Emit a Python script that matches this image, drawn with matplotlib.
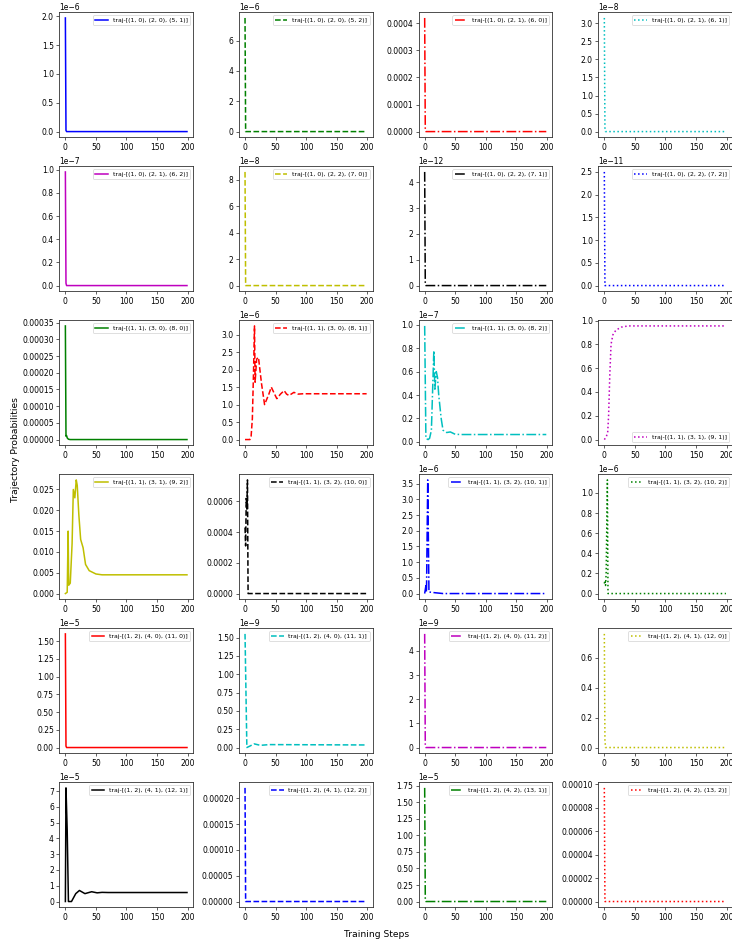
import numpy as np
import matplotlib
matplotlib.use('Agg')
import matplotlib.pyplot as plt

# trajectory labels
labels = [
    'traj-[(1, 0), (2, 0), (5, 1)]', 'traj-[(1, 0), (2, 0), (5, 2)]',
    'traj-[(1, 0), (2, 1), (6, 0)]', 'traj-[(1, 0), (2, 1), (6, 1)]',
    'traj-[(1, 0), (2, 1), (6, 2)]', 'traj-[(1, 0), (2, 2), (7, 0)]',
    'traj-[(1, 0), (2, 2), (7, 1)]', 'traj-[(1, 0), (2, 2), (7, 2)]',
    'traj-[(1, 1), (3, 0), (8, 0)]', 'traj-[(1, 1), (3, 0), (8, 1)]',
    'traj-[(1, 1), (3, 0), (8, 2)]', 'traj-[(1, 1), (3, 1), (9, 1)]',
    'traj-[(1, 1), (3, 1), (9, 2)]', 'traj-[(1, 1), (3, 2), (10, 0)]',
    'traj-[(1, 1), (3, 2), (10, 1)]', 'traj-[(1, 1), (3, 2), (10, 2)]',
    'traj-[(1, 2), (4, 0), (11, 0)]', 'traj-[(1, 2), (4, 0), (11, 1)]',
    'traj-[(1, 2), (4, 0), (11, 2)]', 'traj-[(1, 2), (4, 1), (12, 0)]',
    'traj-[(1, 2), (4, 1), (12, 1)]', 'traj-[(1, 2), (4, 1), (12, 2)]',
    'traj-[(1, 2), (4, 2), (13, 1)]', 'traj-[(1, 2), (4, 2), (13, 2)]',
]

# (steps, probabilities)
steps_a = [0, 1, 2, 199]
steps = [
    steps_a, steps_a, steps_a, steps_a,
    [0, 1, 2, 199], steps_a, steps_a, steps_a,
    [0, 1, 2, 3, 5, 8, 199],
    [0, 8, 10, 12, 14, 15.5, 16.5, 19, 22, 27, 32, 39, 43, 47, 52, 58, 64, 68, 72, 80, 87, 95, 199],
    [0, 2, 5.5, 8, 11, 15, 16.7, 19, 21, 23, 27, 30, 36, 42, 50, 60, 199],
    [0, 3, 5.5, 7, 9, 11, 14, 19, 28, 39, 50, 199],
    [0, 3, 4.5, 5.5, 8, 11, 13, 15.5, 17.8, 19.4, 22, 25, 29, 33, 39, 50, 60, 199],
    [0, 1, 2, 3, 4, 5, 199],
    [0, 2, 3, 5, 7, 15, 30, 199],
    [0, 1, 2, 3, 5, 6, 199],
    [0, 1, 2, 199],
    [0, 3, 8, 15, 25, 40, 199],
    [0, 1, 2, 199],
    [0, 1, 2, 199],
    [0, 1, 3, 5, 10, 17, 23, 32, 43, 52, 60, 70, 199],
    [0, 1, 2, 199],
    [0, 1, 2, 3, 199],
    [0, 1, 2, 199],
]
probs = [
    [1.97e-6, 0.02e-6, 0.0, 0.0],
    [7.5e-6, 0.0, 0.0, 0.0],
    [4.2e-4, 0.05e-4, 0.0, 0.0],
    [3.15e-8, 0.1e-8, 0.0, 0.0],
    [0.98e-7, 0.02e-7, 0.0, 0.0],
    [8.6e-8, 0.0, 0.0, 0.0],
    [4.4e-12, 0.05e-12, 0.0, 0.0],
    [2.5e-11, 0.0, 0.0, 0.0],
    [3.4e-4, 0.1e-4, 0.12e-4, 0.05e-4, 0.01e-4, 0.0, 0.0],
    [0.0, 0.0, 0.1e-6, 0.6e-6, 2.0e-6, 3.25e-6, 1.64e-6, 2.3e-6, 2.35e-6, 1.6e-6, 1.0e-6, 1.3e-6,
     1.5e-6, 1.35e-6, 1.17e-6, 1.3e-6, 1.4e-6, 1.3e-6, 1.26e-6, 1.35e-6, 1.3e-6, 1.31e-6, 1.31e-6],
    [0.99e-7, 0.03e-7, 0.02e-7, 0.03e-7, 0.1e-7, 0.78e-7, 0.45e-7, 0.6e-7, 0.55e-7, 0.4e-7,
     0.2e-7, 0.1e-7, 0.08e-7, 0.085e-7, 0.065e-7, 0.063e-7, 0.063e-7],
    [0.0, 0.02, 0.06, 0.2, 0.55, 0.8, 0.88, 0.92, 0.945, 0.955, 0.955, 0.955],
    [0.0, 0.0003, 0.015, 0.002, 0.0025, 0.012, 0.025, 0.023, 0.0273, 0.026, 0.019, 0.013,
     0.011, 0.007, 0.0055, 0.0047, 0.0045, 0.0045],
    [4.3e-4, 3.1e-4, 6.2e-4, 5.5e-4, 7.4e-4, 0.0, 0.0],
    [0.0, 0.25e-6, 0.05e-6, 3.62e-6, 0.05e-6, 0.03e-6, 0.0, 0.0],
    [0.1e-6, 0.13e-6, 0.08e-6, 0.2e-6, 1.13e-6, 0.0, 0.0],
    [1.6e-5, 0.02e-5, 0.0, 0.0],
    [1.55e-9, 0.0, 0.02e-9, 0.05e-9, 0.03e-9, 0.04e-9, 0.035e-9],
    [4.7e-9, 0.1e-9, 0.0, 0.0],
    [0.76, 0.05, 0.0, 0.0],
    [0.0, 7.2e-5, 4.5e-5, 0.0, 0.0, 0.5e-5, 0.7e-5, 0.5e-5, 0.62e-5, 0.55e-5, 0.58e-5, 0.57e-5, 0.57e-5],
    [2.2e-4, 0.0, 0.0, 0.0],
    [1.72e-5, 0.05e-5, 0.0, 0.0, 0.0],
    [0.97e-4, 0.0, 0.0, 0.0],
]

colors = ['b', 'g', 'r', 'c', 'm', 'y', 'k']
styles = ['-', '--', '-.', ':']

dpi = 55
fig, axes = plt.subplots(6, 4, figsize=(732.01 / dpi, 945.01 / dpi), dpi=dpi)
fig.subplots_adjust(left=0.081, right=1.0, top=0.987, bottom=0.040,
                    wspace=0.343, hspace=0.232)

for i, ax in enumerate(axes.flat):
    ax.plot(steps[i], probs[i], color=colors[i % 7], linestyle=styles[i % 4],
            linewidth=2.0, label=labels[i])
    ax.set_xticks([0, 50, 100, 150, 200])
    for sp in ax.spines.values():
        sp.set_linewidth(1.1)
        sp.set_color('#333333')
    loc = 'lower right' if i == 11 else 'upper right'
    ax.legend(loc=loc, fontsize=8)

fig.text(0.0205, 0.524, 'Trajectory Probabilities', rotation=90,
         ha='center', va='center', fontsize=12)
fig.text(0.515, 0.0106, 'Training Steps', ha='center', va='center', fontsize=12)

plt.savefig('out.png', dpi=dpi)
